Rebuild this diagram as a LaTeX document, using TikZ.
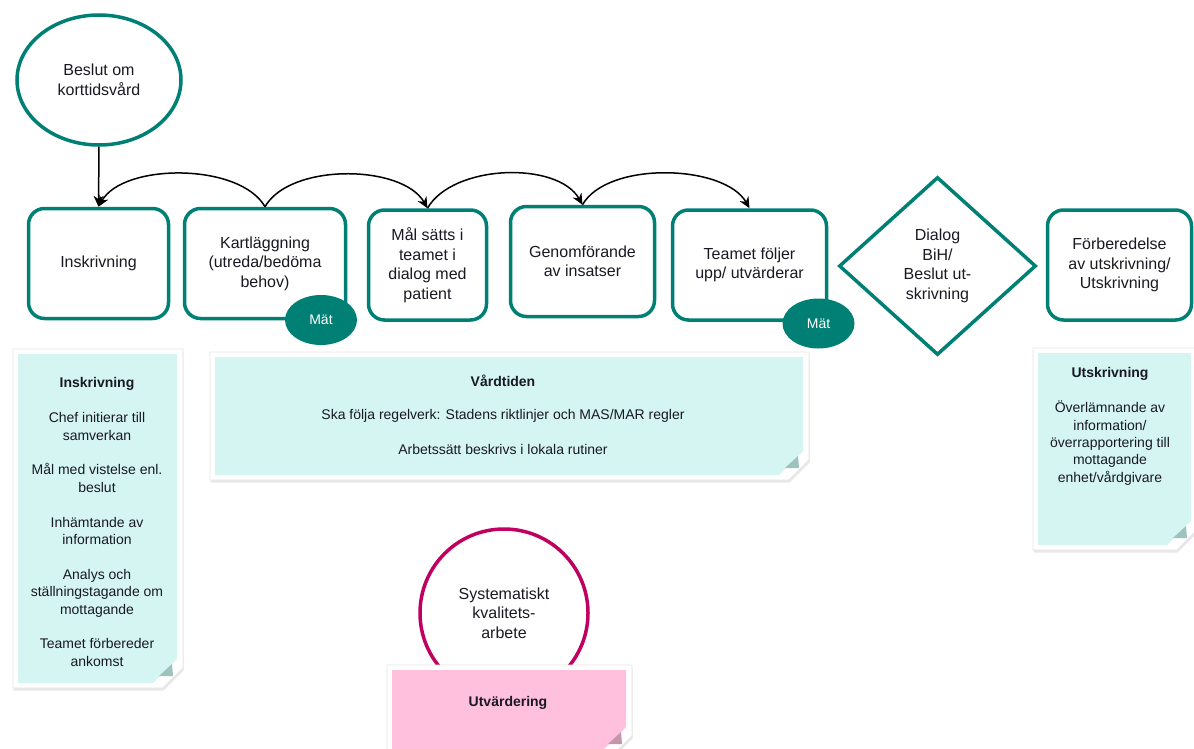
\documentclass[tikz,border=0pt]{standalone}
\usepackage{fontspec}
\setmainfont{Liberation Sans}
\usetikzlibrary{shapes.geometric,arrows.meta,shadows}

\definecolor{boxteal}{RGB}{0,128,117}
\definecolor{ringred}{RGB}{192,0,96}
\definecolor{notecyan}{RGB}{212,245,242}
\definecolor{foldcyan}{RGB}{158,194,190}
\definecolor{notepink}{RGB}{255,192,222}
\definecolor{foldpink}{RGB}{196,150,172}
\definecolor{inktext}{RGB}{25,25,35}

\begin{document}
\begin{tikzpicture}[x=1pt,y=-1pt,
	stepbox/.style={draw=boxteal, line width=3.5pt, rounded corners=16pt, fill=white,
		minimum width=#1, minimum height=110pt, align=center, text=inktext,
		font=\fontsize{16}{19.5}\selectfont},
	startoval/.style={ellipse, draw=boxteal, line width=3.5pt, minimum width=164pt,
		minimum height=130pt, align=center, text=inktext, font=\fontsize{16}{19.5}\selectfont},
	choice/.style={diamond, draw=boxteal, line width=3.5pt, minimum width=197pt,
		minimum height=178pt, inner sep=0pt, align=center, text=inktext,
		font=\fontsize{16}{19.5}\selectfont},
	matnode/.style={ellipse, fill=boxteal, minimum width=72pt, minimum height=50pt,
		text=white, font=\fontsize{14}{16}\selectfont},
	ring/.style={circle, draw=ringred, line width=3.5pt, minimum size=168pt, align=center,
		text=inktext, font=\fontsize{16}{19.5}\selectfont},
	paperedge/.style={fill=white, draw=black!10, line width=0.8pt,
		drop shadow={shadow xshift=0.5pt, shadow yshift=-2.5pt, opacity=0.18}},
	notetext/.style={align=center, text=inktext, inner sep=0pt, font=\fontsize{14}{17.4}\selectfont},
	flowarc/.style={black, line width=1.5pt, -{Stealth[length=11pt,width=10pt]}}]

\useasboundingbox (0,0) rectangle (1194,749);

% notes behind the process
\foreach \xa/\ya/\xb/\yb/\paper/\fold in {13/349/183/688/notecyan/foldcyan,
	210/352/809/480/notecyan/foldcyan, 1033/348/1197/550/notecyan/foldcyan} {%
	\path[paperedge]
		(\xa,\ya) -- (\xb,\ya) -- (\xb,\yb-20) -- (\xb-20,\yb) -- (\xa,\yb) -- cycle;
	\fill[\paper] (\xa+5,\ya+5) -- (\xb-6,\ya+5) -- (\xb-6,\yb-29) -- (\xb-30,\yb-5) -- (\xa+5,\yb-5) -- cycle;
	\fill[\fold] (\xb-11,\yb-24) -- (\xb-10,\yb-12) -- (\xb-24,\yb-12) -- cycle;
}

\node[startoval] (beslut) at (99,80) {Beslut om\\korttidsvård};

\node[stepbox=140pt] (insk) at (98.5,263.5) {Inskrivning};
\node[stepbox=161pt] (kart) at (265,263.5) {Kartläggning\\(utreda/bedöma\\behov)};
\node[stepbox=118pt] (maal) at (427.5,265) {Mål sätts i\\teamet i\\dialog med\\patient};
\node[stepbox=144pt] (genom) at (582.5,261.5) {Genomförande\\av insatser};
\node[stepbox=154pt] (team) at (749.5,265) {Teamet följer\\upp/ utvärderar};
\node[choice] (dialog) at (937.5,266) {Dialog\\BiH/\\Beslut ut-\\skrivning};
\node[stepbox=144pt] (forb) at (1119.5,265) {Förberedelse\\av utskrivning/\\Utskrivning};

\node[matnode] (matkart) at (321,320) {Mät};
\node[matnode] (matteam) at (818.5,323.5) {Mät};

\draw[flowarc] (beslut.south) -- (insk.north);
\draw[flowarc, {Stealth[length=11pt,width=10pt]}-] (insk.north) .. controls +(25,-44) and +(-25,-44) .. (kart.north);
\draw[flowarc] (kart.north) .. controls +(25,-44) and +(-25,-44) .. (maal.north);
\draw[flowarc] (maal.north) .. controls +(25,-44) and +(-25,-44) .. (genom.north);
\draw[flowarc] (genom.north) .. controls +(25,-44) and +(-25,-44) .. (team.north);

\node[notetext] (inskinfo) at (97,522) {\textbf{Inskrivning}\\[17.4pt]
	Chef initierar till\\samverkan\\[17.4pt]
	Mål med vistelse enl.\\beslut\\[17.4pt]
	Inhämtande av\\information\\[17.4pt]
	Analys och\\ställningstagande om\\mottagande\\[17.4pt]
	Teamet förbereder\\ankomst};
\node[notetext] (vardinfo) at (503,415) {\textbf{Vårdtiden}\\[16pt]
	Ska följa regelverk: Stadens riktlinjer och MAS/MAR regler\\[17.4pt]
	Arbetssätt beskrivs i lokala rutiner};
\node[notetext] (utskinfo) at (1110,426.5) {\textbf{Utskrivning}\\[17.4pt]
	Överlämnande av\\information/\\överrapportering till\\mottagande\\enhet/vårdgivare};

% kvalitetsarbete
\node[ring] (kvalitet) at (504,613) {Systematiskt\\kvalitets-\\arbete};

\foreach \xa/\ya/\xb/\yb/\paper/\fold in {387/665/632/756/notepink/foldpink} {%
	\path[paperedge]
		(\xa,\ya) -- (\xb,\ya) -- (\xb,\yb-20) -- (\xb-20,\yb) -- (\xa,\yb) -- cycle;
	\fill[\paper] (\xa+5,\ya+5) -- (\xb-6,\ya+5) -- (\xb-6,\yb-29) -- (\xb-30,\yb-5) -- (\xa+5,\yb-5) -- cycle;
	\fill[\fold] (\xb-11,\yb-24) -- (\xb-10,\yb-12) -- (\xb-24,\yb-12) -- cycle;
}
\node[notetext] (utvard) at (508,703) {\textbf{Utvärdering}};

\end{tikzpicture}
\end{document}
